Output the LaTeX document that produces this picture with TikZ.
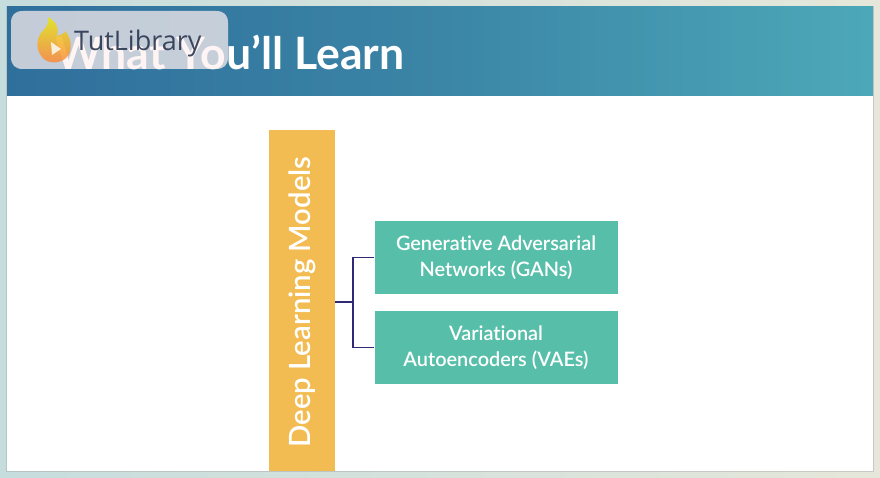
\documentclass[tikz,border=0pt]{standalone}
\usepackage{fontspec}
\setmainfont[Ligatures=NoCommon]{Lato}
\newfontfamily\medfont[Ligatures=NoCommon]{Lato Semibold}
\newfontfamily\markfont{Open Sans}
\usetikzlibrary{shadings}
\definecolor{pageL}{HTML}{C6DDDD}
\definecolor{pageR}{HTML}{E6E7DA}
\definecolor{bandL}{HTML}{2F6F9C}
\definecolor{bandM}{HTML}{3B85A6}
\definecolor{bandR}{HTML}{4CA8B8}
\definecolor{pillar}{HTML}{F3BC52}
\definecolor{tealbox}{HTML}{57BFA9}
\definecolor{wire}{HTML}{2E2A78}
\definecolor{markink}{HTML}{2A3650}
\definecolor{badge}{HTML}{FDF0EF}
\tikzset{
  leafbox/.style={fill=tealbox,draw=none,minimum width=243pt,minimum height=73.5pt,
    inner sep=0pt,text=white,align=center,font=\medfont\fontsize{19.9}{26}\selectfont},
  wirepath/.style={draw=wire,line width=1.2pt},
}
\begin{document}
\begin{tikzpicture}[x=1pt,y=-1pt]
\useasboundingbox (0,0) rectangle (880,478);
% page backdrop and slide
\shade[left color=pageL,right color=pageR] (0,0) rectangle (880,478);
\fill[black!35,opacity=.45] (6,6) rectangle (874,472);
\fill[white] (7,7) rectangle (873,471);
\shade[left color=bandL,right color=bandR,middle color=bandM] (7,7) rectangle (873,95.5);
% title
\node[anchor=base west,inner sep=0pt,text=white,font=\fontsize{44.6}{48}\selectfont\bfseries] (title) at (55,69.5) {What You’ll Learn};
% diagram
\fill[pillar] (269,130) rectangle (334.5,471);
\node[rotate=90,anchor=center,inner sep=0pt,text=white,font=\medfont\fontsize{29.3}{33}\selectfont] (models) at (302.5,302) {Deep Learning Models};
\coordinate (pillarout) at (334.5,302);
\node[leafbox] (gan) at (496,257.5) {Generative Adversarial\\Networks (GANs)};
\node[leafbox] (vae) at (496,347.5) {Variational\\Autoencoders (VAEs)};
\coordinate (fork) at (353,302);
\draw[wirepath] (pillarout) -- (fork);
\draw[wirepath] (gan.west) -- (fork |- gan.west) -- (fork |- vae.west) -- (vae.west);
% overlay badge
\fill[badge,opacity=.72] (11,23) .. controls (11,15) and (15,11) .. (23,11) -- (216,11) .. controls (224,11) and (228,15) .. (228,23) -- (228,57) .. controls (228,65) and (224,69) .. (216,69) -- (23,69) .. controls (15,69) and (11,65) .. (11,57) -- cycle;
\shade[top color=yellow!80!olive!90,bottom color=orange!75!red!80,shading angle=0,opacity=.8]
  (48,17) .. controls (54,20) and (60,27) .. (57,36)
  .. controls (61,35) and (65,33) .. (65,31)
  .. controls (72,38) and (73,52) .. (66,58)
  .. controls (60,64) and (47,64) .. (42,57)
  .. controls (36,50) and (36,40) .. (41,33)
  .. controls (44,29) and (50,25) .. (48,17) -- cycle;
\fill[white,opacity=.8] (51,42) -- (61,49) -- (52,55) -- cycle;
\node[anchor=base west,inner sep=0pt,text=markink,opacity=.9,font=\markfont\fontsize{27}{30}\selectfont] (mark) at (74,51) {TutLibrary};
\end{tikzpicture}
\end{document}
